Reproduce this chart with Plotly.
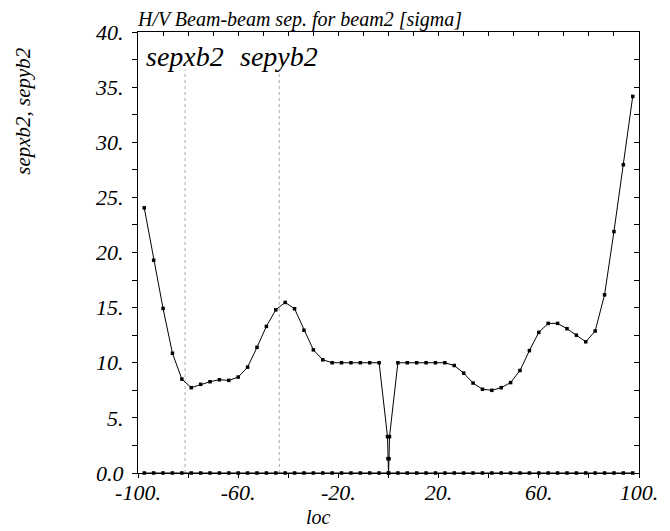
import plotly.graph_objects as go

# ---- data ----
loc_x = [-97.5, -93.75, -90.0, -86.25, -82.5, -78.75, -75.0, -71.25, -67.5, -63.75,
         -60.0, -56.25, -52.5, -48.75, -45.0, -41.25, -37.5, -33.75, -30.0, -26.25,
         -22.5, -18.75, -15.0, -11.25, -7.5, -3.75, 0.0, 3.75, 7.5, 11.25,
         15.0, 18.75, 22.5, 26.25, 30.0, 33.75, 37.5, 41.25, 45.0, 48.75,
         52.5, 56.25, 60.0, 63.75, 67.5, 71.25, 75.0, 78.75, 82.5, 86.25,
         90.0, 93.75, 97.5]
sepxb2 = [0.0] * len(loc_x)

loc_y = [-97.5, -93.75, -90.0, -86.25, -82.5, -78.75, -75.0, -71.25, -67.5, -63.75,
         -60.0, -56.25, -52.5, -48.75, -45.0, -41.25, -37.5, -33.75, -30.0, -26.25,
         -22.5, -18.75, -15.0, -11.25, -7.5, -3.75, -0.4, -0.2, 0.0, 0.2, 0.4,
         3.75, 7.5, 11.25, 15.0, 18.75, 22.5, 26.25, 30.0, 33.75, 37.5, 41.25,
         45.0, 48.75, 52.5, 56.25, 60.0, 63.75, 67.5, 71.25, 75.0, 78.75, 82.5,
         86.25, 90.0, 93.75, 97.5]
sepyb2 = [24.05, 19.3, 14.93, 10.86, 8.52, 7.74, 8.04, 8.28, 8.46, 8.4,
          8.7, 9.6, 11.4, 13.3, 14.8, 15.47, 14.9, 12.95, 11.17, 10.27,
          10.0, 10.0, 10.0, 10.0, 10.0, 10.0, 3.3, 1.3, 0.0, 1.3, 3.3,
          10.0, 10.0, 10.0, 10.0, 10.0, 10.0, 9.75, 9.06, 8.16, 7.6, 7.5,
          7.74, 8.2, 9.3, 11.1, 12.76, 13.57, 13.57, 13.09, 12.5, 11.9, 12.88,
          16.16, 21.9, 27.96, 34.16]

curve_labels = ["sepxb2", "sepyb2"]
label_x = [-81.2, -43.6]
label_y = 37.8
marker_top = 36.6

x_tickvals = [-100, -60, -20, 20, 60, 100]
x_ticktext = ["-100.", "-60.", "-20.", "20.", "60.", "100."]
y_tickvals = [0, 5, 10, 15, 20, 25, 30, 35, 40]
y_ticktext = ["0.0", "5.", "10.", "15.", "20.", "25.", "30.", "35.", "40."]

FONT = "Liberation Serif"

fig = go.Figure()

# dotted label leaders
for lx in label_x:
    fig.add_trace(go.Scatter(x=[lx, lx], y=[0, marker_top], mode="lines",
                             line=dict(color="#aaaaaa", width=1, dash="dot"),
                             hoverinfo="skip", showlegend=False))

fig.add_trace(go.Scatter(x=loc_x, y=sepxb2, mode="lines+markers",
                         line=dict(color="black", width=1),
                         marker=dict(symbol="square", size=3.5, color="black"),
                         showlegend=False, cliponaxis=False))
fig.add_trace(go.Scatter(x=loc_y, y=sepyb2, mode="lines+markers",
                         line=dict(color="black", width=1),
                         marker=dict(symbol="square", size=3.5, color="black"),
                         showlegend=False, cliponaxis=False))

# invisible trace for the mirrored (top/right) axes
fig.add_trace(go.Scatter(x=[-100, 100], y=[0, 40], xaxis="x2", yaxis="y2",
                         mode="markers", marker=dict(opacity=0),
                         hoverinfo="skip", showlegend=False))

for name, lx in zip(curve_labels, label_x):
    fig.add_annotation(x=lx, y=label_y, text=name, showarrow=False,
                       xanchor="center", yanchor="middle",
                       font=dict(family=FONT, size=28, color="black", style="italic"))

fig.add_annotation(xref="paper", yref="paper", x=0, y=1.0, yshift=0,
                   text="H/V Beam-beam sep. for beam2 [sigma]", showarrow=False,
                   xanchor="left", yanchor="bottom", xshift=-2, borderpad=0,
                   font=dict(family=FONT, size=20, color="black", style="italic"))
fig.add_annotation(xref="paper", yref="paper", x=-0.229, y=0.822,
                   text="sepxb2, sepyb2", showarrow=False, textangle=-90,
                   xanchor="center", yanchor="middle",
                   font=dict(family=FONT, size=21, color="black", style="italic"))
fig.add_annotation(xref="paper", yref="paper", x=0.361, y=-0.099,
                   text="loc", showarrow=False,
                   xanchor="center", yanchor="middle",
                   font=dict(family=FONT, size=20, color="black", style="italic"))

tickfont = dict(family=FONT, size=22, color="black", style="italic")
fig.update_layout(
    width=662, height=523,
    margin=dict(l=130, r=22, t=22, b=58),
    paper_bgcolor="white", plot_bgcolor="white",
    font=dict(family=FONT, color="black"),
    xaxis=dict(range=[-100, 100], showgrid=False, zeroline=False,
               showline=True, linecolor="black", linewidth=1,
               tickvals=x_tickvals, ticktext=x_ticktext, tickfont=tickfont,
               ticks="outside", ticklen=4, tickcolor="black", ticklabelstandoff=-4,
               minor=dict(dtick=20, tick0=-100, ticks="outside", ticklen=4, tickcolor="black")),
    yaxis=dict(range=[0, 40], showgrid=False, zeroline=False,
               showline=True, linecolor="black", linewidth=1,
               tickvals=y_tickvals, ticktext=y_ticktext, tickfont=tickfont,
               ticks="outside", ticklen=5, tickcolor="black", ticklabelstandoff=4,
               minor=dict(dtick=2.5, tick0=0, ticks="outside", ticklen=5, tickcolor="black")),
    xaxis2=dict(range=[-100, 100], overlaying="x", side="top", anchor="y2",
                showgrid=False, zeroline=False, showline=True, linecolor="black",
                linewidth=1, showticklabels=False, ticks="inside", ticklen=4,
                dtick=10, tick0=-100, tickcolor="black"),
    yaxis2=dict(range=[0, 40], overlaying="y", side="right", anchor="x2",
                showgrid=False, zeroline=False, showline=True, linecolor="black",
                linewidth=1, showticklabels=False, ticks="inside", ticklen=5,
                dtick=2.5, tick0=0, tickcolor="black"),
)

fig.write_html("out.html")
